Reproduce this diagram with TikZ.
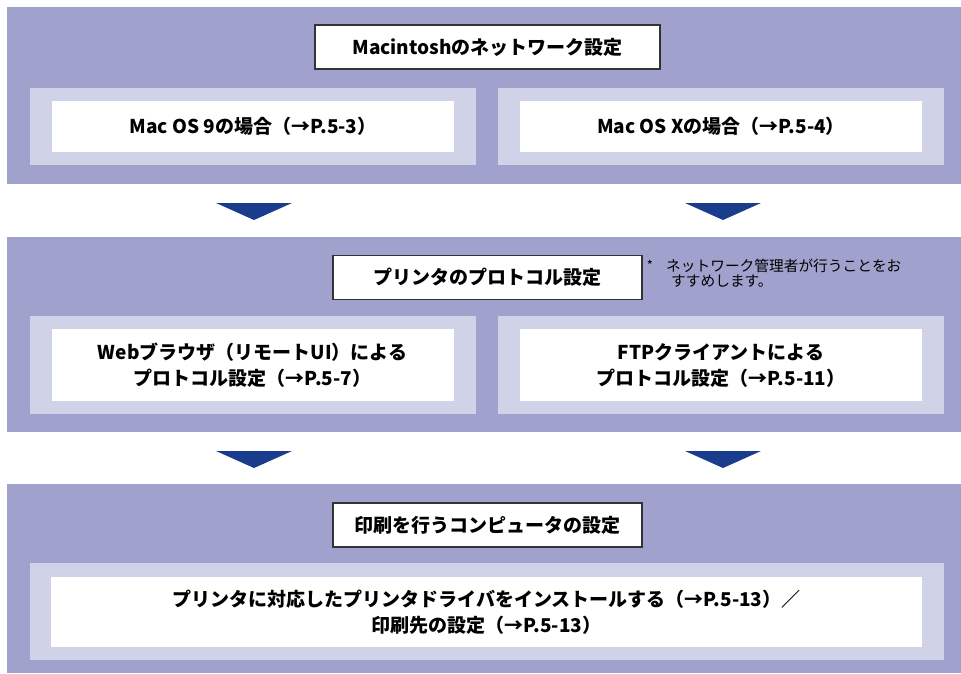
\documentclass[tikz,border=0pt]{standalone}
\usepackage{fontspec}
\setmainfont{Noto Sans CJK JP}
\usepackage{tikz}

\definecolor{paneldark}{HTML}{A0A1CD}
\definecolor{panellight}{HTML}{D0D2E7}
\definecolor{arrowblue}{HTML}{1A3C8C}

\tikzset{
  titlebox/.style={draw=black!80, line width=1.1pt, fill=white, inner sep=0pt,
    minimum width=309pt, minimum height=44pt, font=\fontsize{19}{26}\selectfont\bfseries},
  stepbox/.style={fill=white, inner sep=0pt, align=center,
    minimum width=402pt, font=\fontsize{19}{26}\selectfont\bfseries},
  notetext/.style={inner sep=0pt, align=left, font=\fontsize{14.7}{15.5}\selectfont},
}

\begin{document}
\begin{tikzpicture}[x=1pt, y=-1pt]
  \useasboundingbox (0,0) rectangle (961,673);

  % panels
  \fill[paneldark] (7,7) rectangle (961,184);
  \fill[paneldark] (7,237) rectangle (961,432);
  \fill[paneldark] (7,484) rectangle (961,673);
  \fill[panellight] (30,88) rectangle (476,165);
  \fill[panellight] (498,88) rectangle (944,165);
  \fill[panellight] (30,316) rectangle (476,414);
  \fill[panellight] (498,316) rectangle (944,414);
  \fill[panellight] (30,563) rectangle (944,660);

  \node[titlebox, minimum width=345pt] (macnet) at (487.5,47) {Macintoshのネットワーク設定};
  \node[stepbox, minimum height=51pt] (os9) at (253,126.5) {Mac OS 9の場合（→P.5-3）};
  \node[stepbox, minimum height=51pt] (osx) at (721,126.5) {Mac OS Xの場合（→P.5-4）};

  \node[titlebox] (proto) at (487.5,277.5) {プリンタのプロトコル設定};
  \node[inner sep=0pt, font=\fontsize{13}{14}\selectfont] (ast) at (650,265) {*};
  \node[notetext, anchor=west] (note) at (666,273)
    {ネットワーク管理者が行うことをお\\\hspace*{5pt}すすめします。};
  \node[stepbox, minimum height=72pt] (web) at (252.5,365) {Webブラウザ（リモートUI）による\\プロトコル設定（→P.5-7）};
  \node[stepbox, minimum height=72pt] (ftp) at (721,365) {FTPクライアントによる\\プロトコル設定（→P.5-11）};

  \node[titlebox] (pcset) at (487.5,525) {印刷を行うコンピュータの設定};
  \node[stepbox, minimum width=871pt, minimum height=70pt] (driver) at (486.5,612)
    {プリンタに対応したプリンタドライバをインストールする（→P.5-13）／\\印刷先の設定（→P.5-13）};

  % arrows between panels
  \foreach \cx in {254,723} {
    \fill[arrowblue] (\cx-38,203) -- (\cx+38,203) -- (\cx,220) -- cycle;
    \fill[arrowblue] (\cx-38,451) -- (\cx+38,451) -- (\cx,468) -- cycle;
  }
\end{tikzpicture}
\end{document}
